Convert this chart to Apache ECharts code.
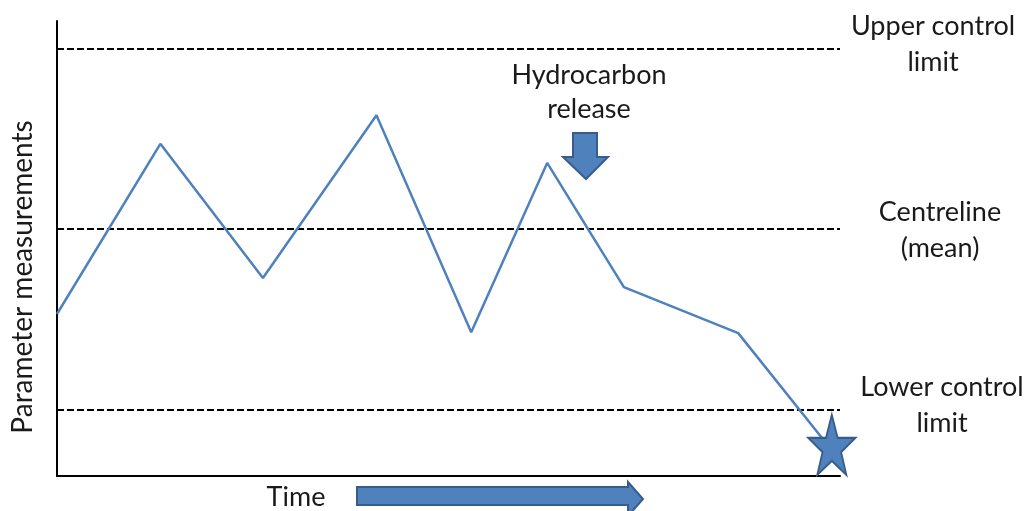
<!DOCTYPE html>
<html>
<head>
<meta charset="utf-8">
<script src="https://cdn.jsdelivr.net/npm/echarts@6/dist/echarts.min.js"></script>
<style>
  html, body { margin: 0; padding: 0; background: #fff; }
  #chart { width: 1027px; height: 511px; }
</style>
</head>
<body>
<div id="chart"></div>
<script>
// time positions (0..100) and measured values (0..100)
var timePoints = [0, 13.2, 26.3, 40.8, 52.9, 62.6, 72.4, 87.0, 98.7];
var measurements = [35.6, 73.0, 43.5, 79.3, 31.6, 68.8, 41.5, 31.4, 6.2];
var controlValues = [93.8, 54.3, 14.5];
var controlNames = ['Upper control limit', 'Centreline (mean)', 'Lower control limit'];

var starPath = 'path://M50,0 L61.8,35.1 L97.6,35.1 L68.8,56.9 L79.4,91.5 L50,70.2 L20.6,91.5 L31.2,56.9 L2.4,35.1 L38.2,35.1 Z';
var blue = '#4F81BD';
var blueEdge = '#385D8A';
var textColor = '#1a1a1a';

var points = timePoints.map(function (t, i) {
    var item = { value: [t, measurements[i]] };
    if (i === timePoints.length - 1) {
        item.symbol = starPath;
        item.symbolSize = [47, 60];
        item.symbolOffset = [2, -3];
        item.itemStyle = { color: blue, borderColor: blueEdge, borderWidth: 2 };
    }
    return item;
});

function label(text, x, y, lh) {
    return { type: 'text', x: x, y: y, style: { text: text, font: '27px Lato', fill: textColor, align: 'center', verticalAlign: 'middle', lineHeight: lh } };
}

var chart = echarts.init(document.getElementById('chart'));
chart.setOption({
    animation: false,
    grid: { left: 57, right: 187, top: 21, bottom: 35 },
    xAxis: {
        type: 'value', min: 0, max: 100,
        axisLine: { show: true, lineStyle: { color: '#000', width: 2 } },
        axisTick: { show: false }, axisLabel: { show: false }, splitLine: { show: false }
    },
    yAxis: {
        type: 'value', min: 0, max: 100,
        axisLine: { show: true, lineStyle: { color: '#000', width: 2 } },
        axisTick: { show: false }, axisLabel: { show: false }, splitLine: { show: false }
    },
    series: [{
        type: 'line',
        data: points,
        symbol: 'none',
        lineStyle: { color: blue, width: 2.5 },
        itemStyle: { color: blue },
        z: 3,
        markLine: {
            silent: true,
            symbol: 'none',
            label: { show: false },
            lineStyle: { color: '#000', width: 2.2, type: [7, 3] },
            data: controlValues.map(function (v, i) { return { name: controlNames[i], yAxis: v }; }),
            z: 2
        }
    }],
    graphic: [
        label('Upper control\nlimit', 933, 44, 36),
        label('Centreline\n(mean)', 940, 230, 36),
        label('Lower control\nlimit', 942, 405, 36),
        label('Hydrocarbon\nrelease', 589, 92, 34),
        label('Time', 296, 497, 30),
        { type: 'text', x: 23, y: 277, rotation: Math.PI / 2,
          style: { text: 'Parameter measurements', font: '28px Lato', fill: textColor, align: 'center', verticalAlign: 'middle' } },
        { type: 'polygon', shape: { points: [[573, 133], [597, 133], [597, 157], [608, 157], [586, 179], [563, 157], [573, 157]] },
          style: { fill: blue, stroke: blueEdge, lineWidth: 2 } },
        { type: 'polygon', shape: { points: [[357, 487], [628, 487], [628, 482], [643, 499], [628, 516], [628, 505], [357, 505]] },
          style: { fill: blue, stroke: blueEdge, lineWidth: 2 } }
    ]
});
</script>
</body>
</html>
